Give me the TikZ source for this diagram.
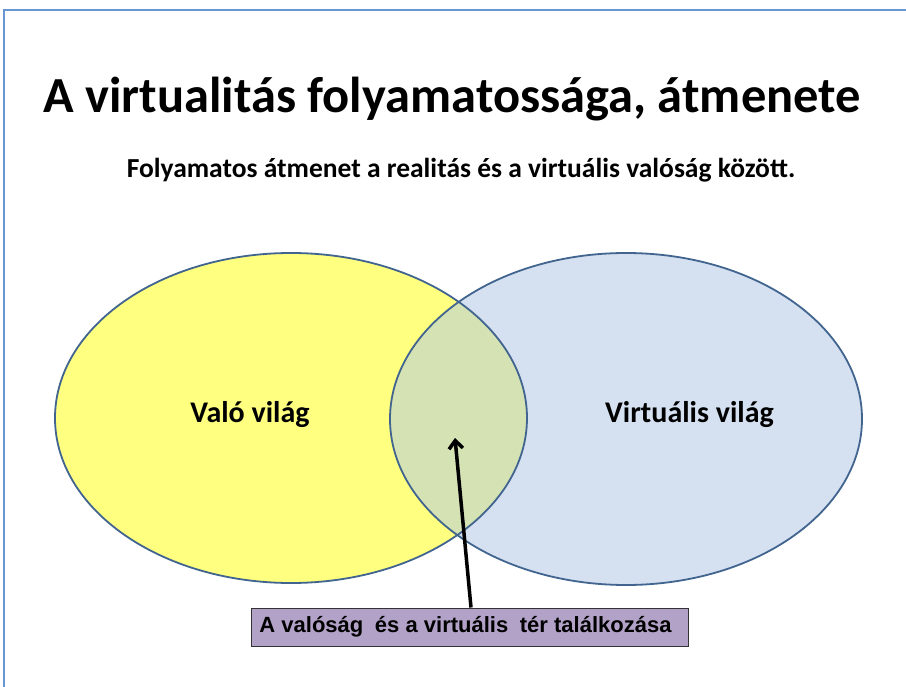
\documentclass[tikz,border=0pt]{standalone}
\usepackage{fontspec}
\usetikzlibrary{arrows.meta}
\setmainfont{Carlito}
\newfontfamily\arialfont{Liberation Sans}
\definecolor{framecol}{HTML}{6A96D4}
\definecolor{edgecol}{HTML}{41658F}
\definecolor{yellowfill}{HTML}{FFFF80}
\definecolor{bluefill}{HTML}{D5E0F1}
\definecolor{greenfill}{HTML}{D5E2B4}
\definecolor{boxfill}{HTML}{B3A2C7}
\begin{document}
\begin{tikzpicture}[x=1pt,y=-1pt,
  ell/.style={draw=edgecol,line width=1.8pt},
  lbl/.style={font=\bfseries\fontsize{30}{34}\selectfont,anchor=base},
  meetbox/.style={draw=black!80,line width=1pt,fill=boxfill,minimum width=437pt,minimum height=38pt,inner sep=0pt}]
\useasboundingbox (0,0) rectangle (906,687);
\fill[white] (0,0) rectangle (906,687);
\draw[framecol,line width=2pt] (4,687) -- (4,10) -- (906,10);
% ellipses
\path[fill=yellowfill] (291,418) ellipse [x radius=236,y radius=165];
\path[fill=bluefill] (626,419) ellipse [x radius=236,y radius=166];
\begin{scope}
\clip (291,418) ellipse [x radius=236,y radius=165];
\fill[greenfill] (626,419) ellipse [x radius=236,y radius=166];
\end{scope}
\draw[ell] (291,418) ellipse [x radius=236,y radius=165];
\draw[ell] (626,419) ellipse [x radius=236,y radius=166];
% texts
\node[font=\bfseries\fontsize{50.5}{54}\selectfont,anchor=base] (title) at (452,113) {A virtualitás folyamatossága, átmenete};
\node[font=\bfseries\fontsize{27.5}{31}\selectfont,anchor=base] (sub) at (461,178) {Folyamatos átmenet a realitás és a virtuális valóság között.};
\node[lbl] (real) at (250,422) {Való világ};
\node[lbl] (virt) at (689.5,422) {Virtuális világ};
\node[meetbox] (meet) at (469.5,627) {\hspace*{-8pt}\arialfont\bfseries\fontsize{22}{24}\selectfont A valóság\hspace{0.25em} és a virtuális\hspace{0.25em} tér találkozása};
\coordinate (tip) at (455,438);
\draw[line width=3.5pt,-{Straight Barb[length=8pt,width=14pt]}] ([xshift=1.5pt]meet.north) -- (tip);
\end{tikzpicture}
\end{document}
